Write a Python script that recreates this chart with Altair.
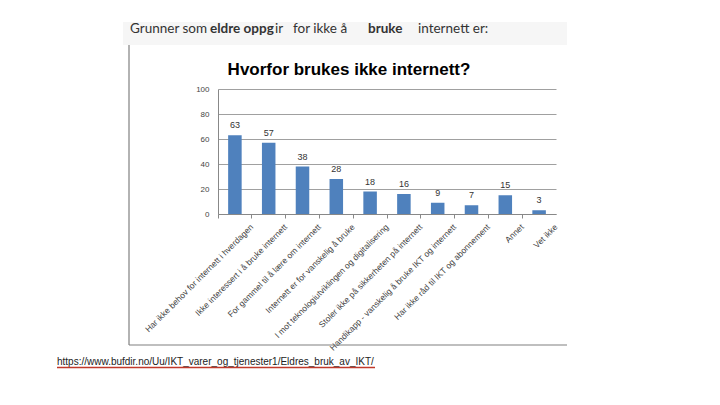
import altair as alt
import pandas as pd

categories = [
    "Har ikke behov for internett i hverdagen",
    "Ikke interessert i å bruke internett",
    "For gammel til å lære om internett",
    "Internett er for vanskelig å bruke",
    "I mot teknologiutviklingen og digitalisering",
    "Stoler ikke på sikkerheten på internett",
    "Handikapp - vanskelig å bruke IKT og internett",
    "Har ikke råd til IKT og abonnement",
    "Annet",
    "Vet ikke",
]
values = [63, 57, 38, 28, 18, 16, 9, 7, 15, 3]
y_ticks = [0, 20, 40, 60, 80, 100]

header_parts = ["Grunner som", "eldre oppg", "ir", "for ikke å", "bruke", "internett er:"]
header_bold = [False, True, False, False, True, False]
header_x = [-88, -8, 57, 75, 150, 200]

chart_title = "Hvorfor brukes ikke internett?"
source_url = "https://www.bufdir.no/Uu/IKT_varer_og_tjenester1/Eldres_bruk_av_IKT/"

df = pd.DataFrame({"kategori": categories, "verdi": values})
one = pd.DataFrame({"a": [0]})
FONT = "Liberation Sans"
HFONT = "Lato"

x_enc = alt.X(
    "kategori:N",
    sort=categories,
    title=None,
    scale=alt.Scale(paddingInner=0.6, paddingOuter=0.3),
    axis=alt.Axis(
        labelAngle=-45,
        labelAlign="right",
        labelBaseline="middle",
        labelFontSize=8.5,
        labelColor="#444444",
        labelFont=FONT,
        labelPadding=7,
        labelLimit=300,
        labelOffset=16.9,
        labelOverlap=False,
        bandPosition=-0.75,
        ticks=True,
        tickSize=4,
        tickColor="#888888",
        domainColor="#888888",
        grid=False,
    ),
)
y_enc = alt.Y(
    "verdi:Q",
    title=None,
    scale=alt.Scale(domain=[0, 100], nice=False),
    axis=alt.Axis(
        values=y_ticks,
        tickCount=6,
        labelOverlap=False,
        labelFontSize=8,
        labelColor="#444444",
        labelFont=FONT,
        labelPadding=9,
        ticks=False,
        domainColor="#888888",
        gridColor="#a0a0a0",
        gridWidth=1,
    ),
)

bars = alt.Chart(df).mark_bar(color="#4F81BD").encode(x=x_enc, y=y_enc)
labels = alt.Chart(df).mark_text(
    baseline="bottom", dy=-5, fontSize=9, color="#333333", font=FONT
).encode(x=alt.X("kategori:N", sort=categories), y="verdi:Q", text="verdi:Q")

band = alt.Chart(one).mark_rect(color="#f6f6f6").encode(
    x=alt.value(-95), x2=alt.value(349), y=alt.value(-67), y2=alt.value(-44)
)
frame_left = alt.Chart(one).mark_rule(color="#808080", strokeWidth=1.2).encode(
    x=alt.value(-89), y=alt.value(-44), y2=alt.value(256)
)
frame_bottom = alt.Chart(one).mark_rule(color="#808080", strokeWidth=1.2).encode(
    x=alt.value(-89), x2=alt.value(349), y=alt.value(256)
)

header_layers = []
for txt, bold, hx in zip(header_parts, header_bold, header_x):
    header_layers.append(
        alt.Chart(one).mark_text(
            text=txt, align="left", baseline="alphabetic", fontSize=13.5,
            fontWeight="bold" if bold else "normal", color="#333333", font=HFONT
        ).encode(x=alt.value(hx), y=alt.value(-56))
    )

title_mark = alt.Chart(one).mark_text(
    text=chart_title, align="center", baseline="alphabetic", fontSize=17,
    fontWeight="bold", color="#000000", font=FONT
).encode(x=alt.value(131), y=alt.value(-14))

url_mark = alt.Chart(one).mark_text(
    text=source_url, align="left", baseline="alphabetic", fontSize=10,
    color="#222222", font=FONT
).encode(x=alt.value(-161), y=alt.value(276))
url_line = alt.Chart(one).mark_rule(color="#c0392b", strokeWidth=1.5).encode(
    x=alt.value(-161), x2=alt.value(157), y=alt.value(278.5)
)

chart = alt.layer(
    band, frame_left, frame_bottom, *header_layers, title_mark, bars, labels, url_mark, url_line
).properties(
    width=338,
    height=125,
    autosize=alt.AutoSizeParams(type="none"),
    padding={"left": 210, "top": 81, "right": 150, "bottom": 180},
    background="white",
).configure_view(stroke=None)

chart.save("out.html", embed_options={"renderer": "svg", "actions": False})
